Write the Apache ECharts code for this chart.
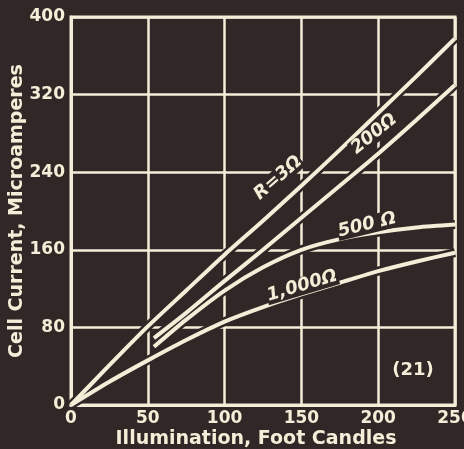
<!DOCTYPE html>
<html>
<head>
<meta charset="utf-8">
<script src="https://cdn.jsdelivr.net/npm/echarts@6/dist/echarts.min.js"></script>
<style>
  html, body { margin: 0; padding: 0; background: #2f2826; }
  #chart { width: 464px; height: 449px; }
</style>
</head>
<body>
<div id="chart"></div>
<script>
// illumination (foot candles) and cell current (microamperes)
const illumFull = [0, 25, 50, 75, 100, 125, 150, 175, 200, 225, 250];
const illumLate = [54, 75, 100, 125, 150, 175, 200, 225, 250];
const curR3 = [0, 41, 81, 118, 155, 190, 226, 263, 301, 339, 378];
const cur200 = [69, 95, 128, 160, 193, 226, 259, 294, 330];
const cur500 = [60, 88, 118, 142, 160, 171, 178, 183, 186];
const cur1000 = [0, 24, 46, 67, 86, 101, 114, 126, 138, 148, 157];
const xTicks = [0, 50, 100, 150, 200, 250];
const yTicks = [0, 80, 160, 240, 320, 400];

const ink = '#f3eed8';
const bg = '#2f2826';
const fontFam = '"DejaVu Sans", Verdana, sans-serif';

function pairs(xs, ys) {
  return xs.map((x, i) => [x, ys[i]]);
}

// dark casing under each curve, like the gaps in the printed grid
function casing(data) {
  return {
    type: 'line', smooth: 0.25, showSymbol: false, silent: true,
    data: data,
    lineStyle: { color: bg, width: 9 },
    z: 3
  };
}

function curve(name, data) {
  return {
    name: name,
    type: 'line',
    smooth: 0.25,
    showSymbol: false,
    data: data,
    lineStyle: { color: ink, width: 4 },
    z: 5
  };
}

function tag(text, x, y, rot) {
  return {
    type: 'text', x: x, y: y, rotation: rot, z: 10,
    style: {
      text: text, fill: ink, font: 'italic bold 18px ' + fontFam,
      align: 'center', verticalAlign: 'middle',
      backgroundColor: bg, padding: [0, 1]
    }
  };
}

const dR3 = pairs(illumFull, curR3);
const d200 = pairs(illumLate, cur200);
const d500 = pairs(illumLate, cur500);
const d1000 = pairs(illumFull, cur1000);

const chart = echarts.init(document.getElementById('chart'));

const option = {
  backgroundColor: bg,
  animation: false,
  grid: {
    left: 71, right: 9, top: 17, bottom: 44,
    outerBoundsMode: 'none',
    show: true, borderColor: ink, borderWidth: 3
  },
  xAxis: {
    type: 'value', min: 0, max: 250, interval: 50,
    name: 'Illumination, Foot Candles',
    nameLocation: 'middle', nameGap: 25, nameMoveOverlap: false,
    nameTextStyle: { color: ink, fontSize: 19, fontWeight: 'bold', fontFamily: fontFam, padding: [0, 14, 0, 0] },
    axisLine: { show: true, lineStyle: { color: ink, width: 3 } },
    axisTick: { show: false },
    axisLabel: {
      color: ink, fontSize: 17, fontWeight: 'bold', fontFamily: fontFam, margin: 5,
      formatter: v => xTicks.includes(v) ? String(v) : ''
    },
    splitLine: { show: true, lineStyle: { color: ink, width: 2.5 } }
  },
  yAxis: {
    type: 'value', min: 0, max: 400, interval: 80,
    name: 'Cell Current, Microamperes',
    nameLocation: 'middle', nameGap: 44, nameMoveOverlap: false,
    nameTextStyle: { color: ink, fontSize: 19, fontWeight: 'bold', fontFamily: fontFam },
    axisLine: { show: true, lineStyle: { color: ink, width: 3 } },
    axisTick: { show: false },
    axisLabel: {
      color: ink, fontSize: 17, fontWeight: 'bold', fontFamily: fontFam, margin: 6,
      formatter: v => yTicks.includes(v) ? String(v) : ''
    },
    splitLine: { show: true, lineStyle: { color: ink, width: 2.5 } }
  },
  series: [
    casing(dR3), casing(d200), casing(d500), casing(d1000),
    curve('R=3Ω', dR3),
    curve('200Ω', d200),
    curve('500Ω', d500),
    curve('1,000Ω', d1000)
  ],
  graphic: [
    tag('R=3Ω', 278, 178, 0.72),
    tag('200Ω', 374, 134, 0.68),
    tag('500 Ω', 367, 225, 0.24),
    tag('1,000Ω', 302, 286, 0.29),
    { type: 'text', x: 413, y: 370, z: 10,
      style: { text: '(21)', fill: ink, font: 'bold 18px ' + fontFam, align: 'center', verticalAlign: 'middle' } }
  ]
};

chart.setOption(option);
</script>
</body>
</html>
